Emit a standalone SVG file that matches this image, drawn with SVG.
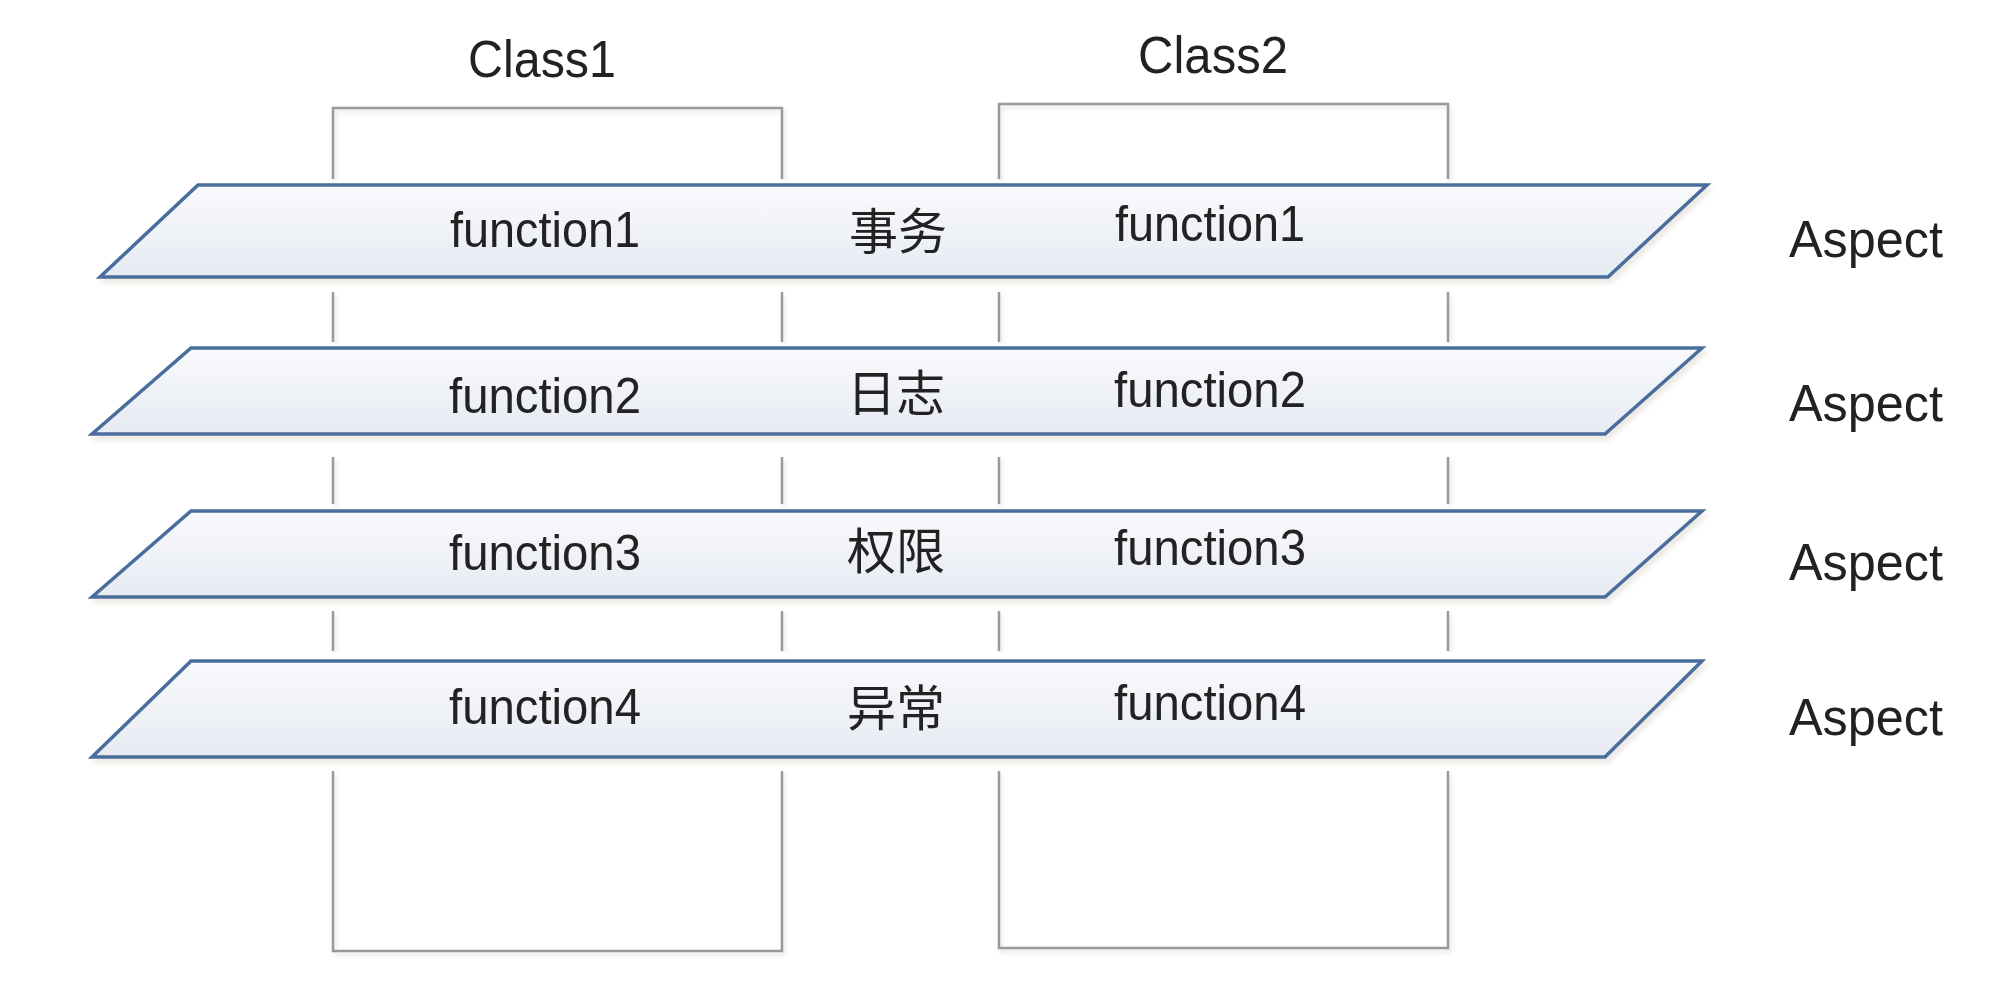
<svg xmlns="http://www.w3.org/2000/svg" width="2000" height="1006" viewBox="0 0 2000 1006">
<style>
.box{fill:none;stroke:#9a9a9a;stroke-width:2.5;filter:url(#sh)}
.para{fill:url(#pg);stroke:#4a6d9c;stroke-width:3.5;stroke-linejoin:miter;filter:url(#ps)}
.t{font-family:"Liberation Sans",Arial,sans-serif;fill:#222;text-anchor:middle}
.lab{font-size:52px}
.fn{font-size:50px}
.cn{font-family:"Liberation Sans","Noto Sans CJK SC",sans-serif;font-size:49px;fill:#222;text-anchor:middle}
</style>
<defs>
<linearGradient id="pg" x1="0" y1="0" x2="0" y2="1">
<stop offset="0" stop-color="#f9fafc"/>
<stop offset="1" stop-color="#e6eaf2"/>
</linearGradient>
<filter id="ps" x="-5%" y="-20%" width="110%" height="150%">
<feDropShadow dx="3" dy="5" stdDeviation="2" flood-color="#b8ae9a" flood-opacity="0.25"/>
</filter>
<filter id="sh" x="-5%" y="-5%" width="110%" height="110%">
<feDropShadow dx="2" dy="3" stdDeviation="2" flood-color="#888" flood-opacity="0.25"/>
</filter>
</defs>
<rect width="2000" height="1006" fill="#fff"/>

<g id="connectors">
<path class="box" d="M333,179 V108 H782 V179"/>
<path class="box" d="M333,292 V342 M782,292 V342"/>
<path class="box" d="M333,457 V504 M782,457 V504"/>
<path class="box" d="M333,611 V651 M782,611 V651"/>
<path class="box" d="M333,771 V951 H782 V771"/>
<path class="box" d="M999,179 V104 H1448 V179"/>
<path class="box" d="M999,292 V342 M1448,292 V342"/>
<path class="box" d="M999,457 V504 M1448,457 V504"/>
<path class="box" d="M999,611 V651 M1448,611 V651"/>
<path class="box" d="M999,771 V948 H1448 V771"/>
</g>

<g id="class1">
<text class="t lab" x="542" y="77" textLength="148" lengthAdjust="spacingAndGlyphs">Class1</text>
</g>
<g id="class2">
<text class="t lab" x="1213" y="73" textLength="150" lengthAdjust="spacingAndGlyphs">Class2</text>
</g>

<g id="aspect1">
<polygon class="para" points="198,185 1707,185 1608,277 100,277"/>
<text class="t fn" x="545" y="247" textLength="190" lengthAdjust="spacingAndGlyphs">function1</text>
<text class="cn" x="898" y="249">事务</text>
<text class="t fn" x="1210" y="241" textLength="190" lengthAdjust="spacingAndGlyphs">function1</text>
<text class="t lab" x="1866" y="257" textLength="154" lengthAdjust="spacingAndGlyphs">Aspect</text>
</g>

<g id="aspect2">
<polygon class="para" points="191,348 1702,348 1605,434 92,434"/>
<text class="t fn" x="545" y="413" textLength="192" lengthAdjust="spacingAndGlyphs">function2</text>
<text class="cn" x="896" y="411">日志</text>
<text class="t fn" x="1210" y="407" textLength="192" lengthAdjust="spacingAndGlyphs">function2</text>
<text class="t lab" x="1866" y="421" textLength="154" lengthAdjust="spacingAndGlyphs">Aspect</text>
</g>

<g id="aspect3">
<polygon class="para" points="191,511 1702,511 1605,597 92,597"/>
<text class="t fn" x="545" y="570" textLength="192" lengthAdjust="spacingAndGlyphs">function3</text>
<text class="cn" x="896" y="569">权限</text>
<text class="t fn" x="1210" y="565" textLength="192" lengthAdjust="spacingAndGlyphs">function3</text>
<text class="t lab" x="1866" y="580" textLength="154" lengthAdjust="spacingAndGlyphs">Aspect</text>
</g>

<g id="aspect4">
<polygon class="para" points="191,661 1702,661 1605,757 92,757"/>
<text class="t fn" x="545" y="724" textLength="192" lengthAdjust="spacingAndGlyphs">function4</text>
<text class="cn" x="896" y="726">异常</text>
<text class="t fn" x="1210" y="720" textLength="192" lengthAdjust="spacingAndGlyphs">function4</text>
<text class="t lab" x="1866" y="735" textLength="154" lengthAdjust="spacingAndGlyphs">Aspect</text>
</g>
</svg>
